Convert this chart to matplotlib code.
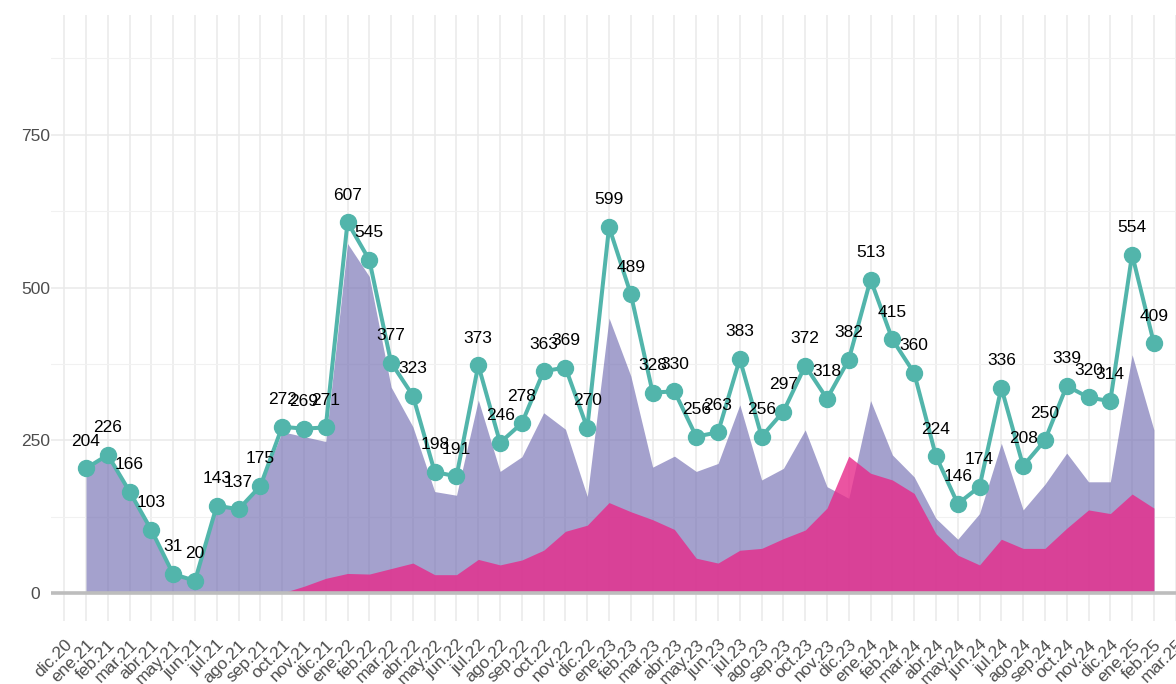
import matplotlib
matplotlib.use("Agg")
import matplotlib.pyplot as plt
from matplotlib.ticker import FixedLocator
import numpy as np

plt.rcParams['font.family'] = ['Liberation Sans', 'DejaVu Sans']

# ---- data ----
tick_labels = ["dic.20",
               "ene.21", "feb.21", "mar.21", "abr.21", "may.21", "jun.21", "jul.21", "ago.21", "sep.21", "oct.21", "nov.21", "dic.21",
               "ene.22", "feb.22", "mar.22", "abr.22", "may.22", "jun.22", "jul.22", "ago.22", "sep.22", "oct.22", "nov.22", "dic.22",
               "ene.23", "feb.23", "mar.23", "abr.23", "may.23", "jun.23", "jul.23", "ago.23", "sep.23", "oct.23", "nov.23", "dic.23",
               "ene.24", "feb.24", "mar.24", "abr.24", "may.24", "jun.24", "jul.24", "ago.24", "sep.24", "oct.24", "nov.24", "dic.24",
               "ene.25", "feb.25", "mar.25"]

total = [204, 226, 166, 103, 31, 20, 143, 137, 175, 272, 269, 271,
         607, 545, 377, 323, 198, 191, 373, 246, 278, 363, 369, 270,
         599, 489, 328, 330, 256, 263, 383, 256, 297, 372, 318, 382,
         513, 415, 360, 224, 146, 174, 336, 208, 250, 339, 320, 314,
         554, 409]

purple_series = [203, 225, 165, 102, 30, 19, 142, 136, 174, 264, 256, 248,
                 572, 518, 337, 272, 166, 160, 316, 199, 223, 295, 268, 158,
                 450, 355, 206, 224, 199, 212, 308, 185, 204, 267, 174, 155,
                 315, 226, 190, 122, 88, 130, 245, 136, 178, 229, 182, 182,
                 390, 267]

pink_series = [0, 0, 0, 0, 0, 0, 0, 0, 0, 0, 11, 24,
               32, 31, 40, 49, 30, 30, 55, 46, 54, 70, 101, 111,
               148, 133, 120, 104, 57, 49, 70, 73, 89, 103, 139, 224,
               196, 185, 163, 97, 62, 46, 88, 73, 73, 106, 136, 130,
               162, 139]

# ---- figure ----
W, H = 1176, 684
fig = plt.figure(figsize=(W / 100, H / 100), dpi=100)
left_px, right_px = 50.7, 1211.0
top_px, bot_px = 15.0, 620.5
ax = fig.add_axes([left_px / W, (H - bot_px) / H, (right_px - left_px) / W, (bot_px - top_px) / H])

x = np.arange(len(total))
tick_pos = np.arange(-1, len(total) + 1)

ax.set_xlim(-1.62, 51.62)
ax.set_ylim(-45, 946)

# grid
for spine in ax.spines.values():
    spine.set_visible(False)
ax.set_xticks(tick_pos)
ax.set_xticklabels(tick_labels)
ax.set_yticks([0, 250, 500, 750])
ax.yaxis.set_minor_locator(FixedLocator([125, 375, 625, 875]))
ax.grid(which='major', color='#e9e9e9', linewidth=1.1, zorder=0)
ax.grid(which='minor', axis='y', color='#f1f1f1', linewidth=0.8, zorder=0)
ax.set_axisbelow(True)
ax.tick_params(axis='both', which='both', length=0)
ax.tick_params(axis='x', pad=12, labelsize=12.5, labelcolor='#4d4d4d')
ax.tick_params(axis='y', pad=11, labelsize=12.5, labelcolor='#4d4d4d')
for lbl in ax.get_xticklabels():
    lbl.set_rotation(45)
    lbl.set_rotation_mode('anchor')
    lbl.set_ha('right')
    lbl.set_va('top')
for lbl in ax.get_yticklabels():
    lbl.set_ha('center')

# areas
ax.fill_between(x, 0, purple_series, color='#7570b3', alpha=0.66, linewidth=0, zorder=2)
ax.fill_between(x, 0, pink_series, color='#e7298a', alpha=0.8, linewidth=0, zorder=3)

# baseline
ax.axhline(0, color='#bdbdbd', linewidth=2.6, zorder=4)

# line
ax.plot(x, total, color='#52b5ab', linewidth=2.9, marker='o', markersize=11.5,
        markerfacecolor='#52b5ab', markeredgecolor='#52b5ab', zorder=5)

for xi, v in zip(x, total):
    ax.annotate(str(v), (xi, v), xytext=(0, 19.5), textcoords='offset points',
                ha='center', va='center', fontsize=12.5, color='black', zorder=6)

fig.savefig('out.png', dpi=100)
